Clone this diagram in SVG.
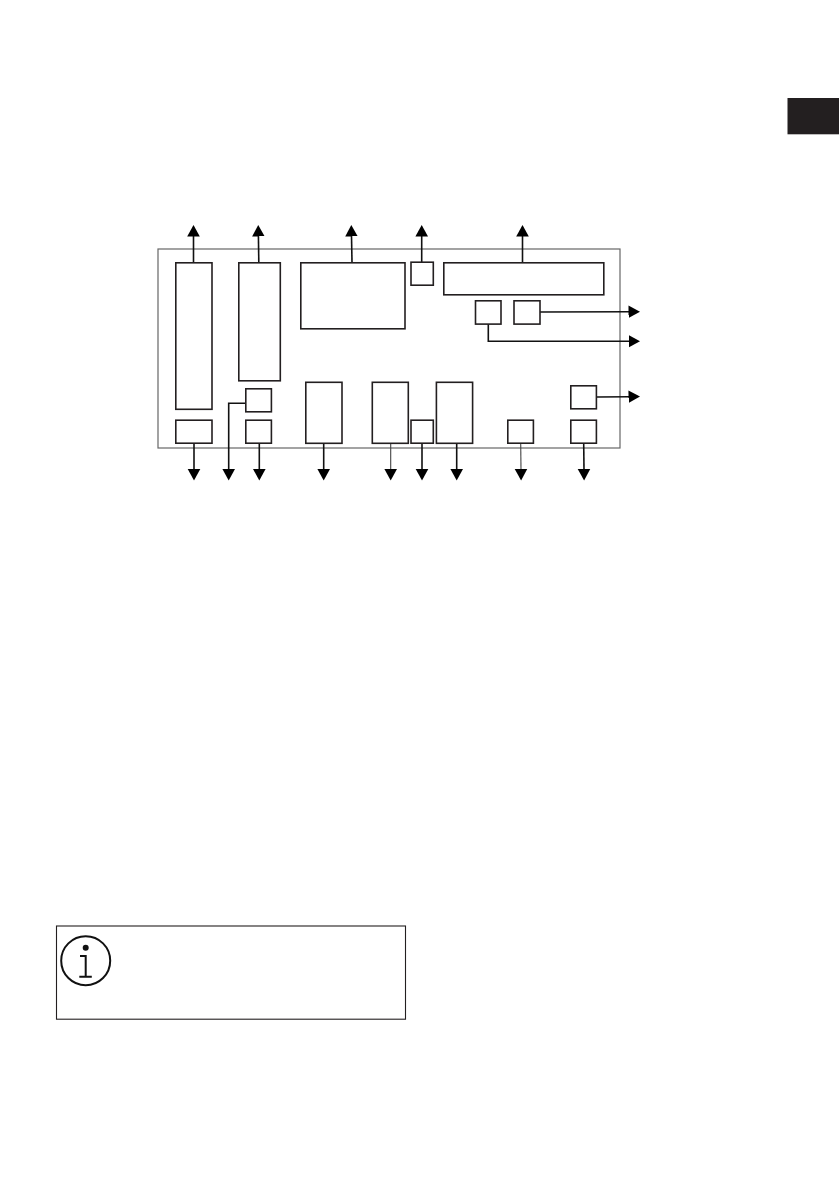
<svg xmlns="http://www.w3.org/2000/svg" width="839" height="1191" viewBox="0 0 839 1191">
<style>
.box{fill:#fff;stroke:#231f20;stroke-width:1.6}
.outer{fill:#fff;stroke:#666;stroke-width:1.2}
.c{fill:none;stroke:#111;stroke-width:1.6;marker-end:url(#a)}
.t{stroke-width:1.1;stroke:#444}
.i{fill:none;stroke:#111;stroke-width:2}
</style>
<defs>
<marker id="a" markerUnits="userSpaceOnUse" markerWidth="14" markerHeight="14" refX="1" refY="7" orient="auto" viewBox="0 0 14 14"><path d="M0 0.700L11.500 7L0 13.300Z" fill="#000"/></marker>
</defs>
<rect width="839" height="1191" fill="#fff"/>
<rect id="tab" x="787.500" y="98" width="51.500" height="36.300" fill="#231f20"/>
<g id="panel"><rect class="outer" x="158" y="249" width="462" height="199"/></g>
<g id="connectors">
<path class="c" d="M193.500 262V235.500"/>
<path class="c" d="M258.800 262L258.400 235.500"/>
<path class="c" d="M352 262L351.500 235.500"/>
<path class="c" d="M421.700 262V235.500"/>
<path class="c" d="M522.500 262V235.500"/>
<path class="c" d="M540 312L629.500 311.700"/>
<path class="c" d="M488.300 324V341.300H629.500"/>
<path class="c" d="M597 397L629.500 396.700"/>
<path class="c" d="M194 443V470"/>
<path class="c" d="M245.700 403.300H228.700V470"/>
<path class="c" d="M259.300 443V470"/>
<path class="c" d="M323.700 443V470"/>
<path class="c t" d="M390.700 443V470"/>
<path class="c" d="M422 443V470"/>
<path class="c" d="M456.700 443V470"/>
<path class="c t" d="M520.700 443L521 470"/>
<path class="c" d="M583.700 443L584 470"/>
</g>
<g id="n1"><rect class="box" x="175.800" y="262.800" width="36.200" height="146.500"/></g>
<g id="n2"><rect class="box" x="238.800" y="262.800" width="41.500" height="118"/></g>
<g id="n3"><rect class="box" x="300.800" y="262.800" width="104.200" height="66"/></g>
<g id="n4"><rect class="box" x="411" y="262.200" width="22.300" height="23"/></g>
<g id="n5"><rect class="box" x="443.800" y="262.800" width="160" height="32"/></g>
<g id="n6"><rect class="box" x="475.500" y="300.800" width="25.500" height="23.300"/></g>
<g id="n7"><rect class="box" x="514" y="300.800" width="26" height="23.300"/></g>
<g id="n8"><rect class="box" x="570.800" y="385.800" width="25.600" height="23"/></g>
<g id="n9"><rect class="box" x="245.800" y="388.800" width="25.600" height="23"/></g>
<g id="n10"><rect class="box" x="175.800" y="420.200" width="36.200" height="23"/></g>
<g id="n11"><rect class="box" x="245.800" y="420.200" width="25.600" height="23"/></g>
<g id="n12"><rect class="box" x="305.800" y="382.300" width="36.200" height="61"/></g>
<g id="n13"><rect class="box" x="372.300" y="382.300" width="36" height="61"/></g>
<g id="n14"><rect class="box" x="411" y="420.200" width="22.300" height="23"/></g>
<g id="n15"><rect class="box" x="436.400" y="382.300" width="36.200" height="61"/></g>
<g id="n16"><rect class="box" x="507.800" y="420.200" width="25.600" height="23"/></g>
<g id="n17"><rect class="box" x="570.800" y="420.200" width="25.600" height="23"/></g>
<g id="note">
<rect x="56.500" y="926" width="349" height="93.200" fill="#fff" stroke="#231f20" stroke-width="1.100"/>
<circle class="i" cx="85.700" cy="960.700" r="24.500"/>
<circle cx="85.700" cy="947.700" r="3" fill="#111"/>
<path class="i" d="M80 956H85.700V976.700M79.300 976.700H91.800"/>
</g>
</svg>
